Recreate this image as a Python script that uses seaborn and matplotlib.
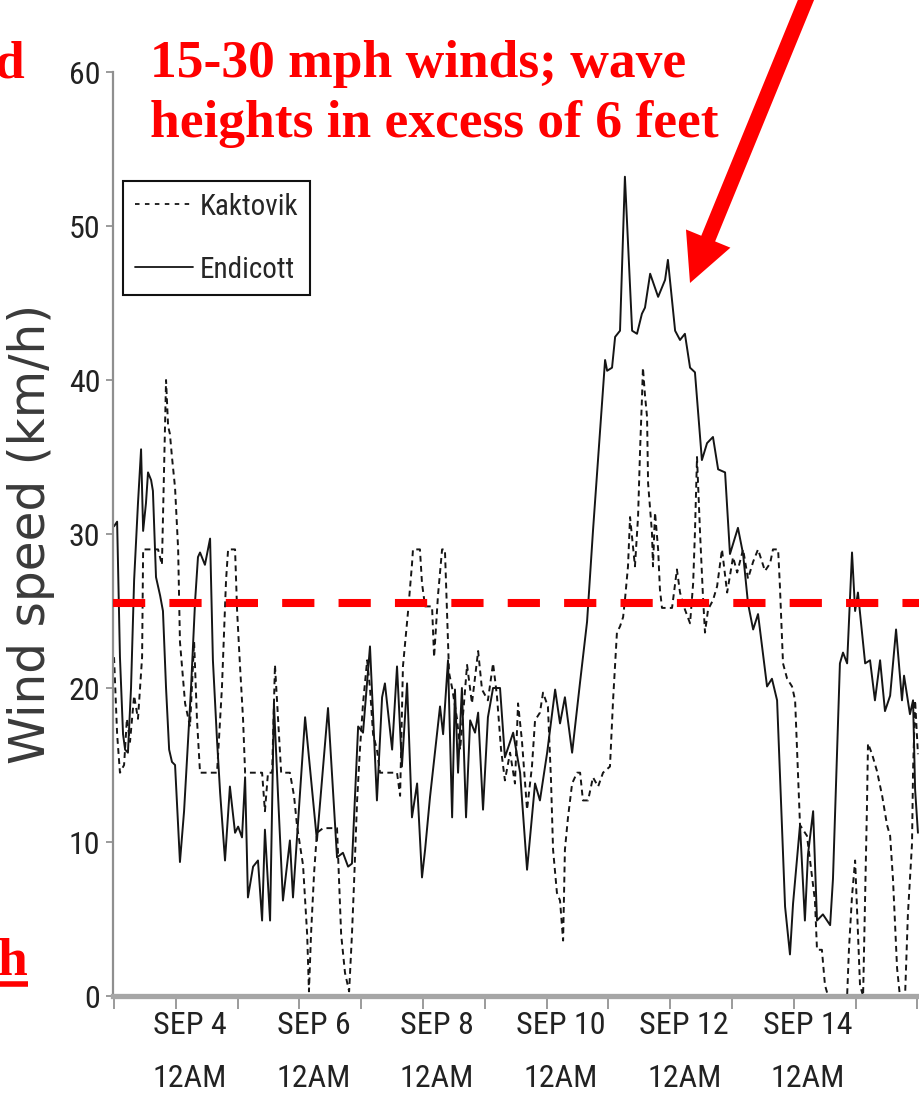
"""
Wind speed at Kaktovik and Endicott, Sep 3-16, with the 15-30 mph storm
threshold marked.  Figure saved as out.png (920x1099 px).
"""

import pandas as pd
import matplotlib
matplotlib.use("Agg")
import matplotlib.pyplot as plt
from matplotlib.lines import Line2D
from matplotlib.patches import FancyArrow
from matplotlib.transforms import ScaledTranslation
import seaborn as sns

# ── Data (hours since SEP 3 12AM, wind speed in km/h) ─────────────────────
endicott_hours = [
    0, 1.2, 2.3, 3.5, 4.3, 5.4, 6.6, 7.8, 9.3, 10.5,
    11.3, 12.4, 13.2, 14.4, 15.1, 16.3, 17.9, 19.0, 20.2, 21.4,
    22.5, 23.7, 25.6, 27.2, 28.3, 29.9, 31.5, 32.6, 33.4, 35.3,
    37.3, 38.4, 40.0, 41.2, 43.1, 45.0, 47.0, 48.2, 49.7, 50.9,
    52.0, 54.0, 55.9, 57.5, 58.6, 60.6, 62.1, 63.7, 65.6, 68.3,
    69.5, 74.2, 78.8, 83.1, 86.6, 88.9, 90.9, 92.4, 94.8, 96.7,
    99.4, 102.1, 104.1, 105.2, 108.0, 109.9, 111.8, 113.8, 115.7, 117.7,
    119.6, 120.8, 122.7, 126.6, 127.8, 129.7, 131.3, 132.4, 133.6, 135.1,
    136.7, 138.3, 140.2, 141.4, 143.3, 145.2, 147.2, 149.9, 151.8, 155.0,
    157.7, 160.4, 163.5, 165.4, 168.2, 171.3, 173.2, 175.1, 177.9, 181.0,
    183.7, 186.0, 190.7, 191.5, 193.4, 194.6, 196.5, 198.4, 201.2, 203.1,
    205.0, 206.2, 208.2, 211.3, 214.0, 215.1, 217.9, 219.8, 221.7, 223.7,
    225.6, 228.3, 230.3, 232.6, 234.6, 237.3, 239.2, 242.3, 244.3, 246.2,
    248.2, 250.1, 253.6, 255.5, 257.5, 260.6, 262.5, 263.7, 266.4, 268.3,
    269.5, 271.5, 273.0, 275.3, 278.1, 279.2, 281.9, 283.1, 284.7, 286.6,
    287.8, 288.9, 291.7, 293.6, 295.5, 297.5, 299.4, 301.4, 303.7, 306.0,
    306.8, 309.1, 310.3, 311.1, 312.2,
]
endicott_speed = [
    30.5, 30.8, 22, 17, 16, 15.8, 20, 27, 32, 35.5,
    30.2, 32, 34, 33.5, 32.8, 27.2, 26, 25, 20, 16,
    15.2, 15, 8.7, 12, 15.3, 20, 25.7, 28.5, 28.8, 28,
    29.7, 21.8, 16.6, 13.2, 8.8, 13.6, 10.6, 11, 10.3, 14.2,
    6.4, 8.4, 8.8, 4.9, 10.8, 4.9, 19, 13, 6.2, 10.1,
    6.4, 18.1, 10.1, 18.7, 9, 9.3, 8.4, 8.6, 17.5, 17.1,
    22.7, 12.7, 19.4, 20.3, 16, 21.4, 14.9, 20.3, 11.6, 13.8,
    7.7, 9.5, 12.9, 18.8, 17, 21.8, 11.6, 19.9, 14.5, 20,
    11.6, 17.9, 17.1, 18.4, 12.1, 18.1, 20, 20, 15.5, 17.1,
    14.5, 8.2, 13.8, 12.7, 15.8, 19.9, 17.7, 19.4, 15.8, 20.4,
    24.3, 30.2, 41.3, 40.6, 40.8, 42.8, 43.2, 53.2, 43.2, 43,
    44.3, 44.7, 46.9, 45.4, 46.5, 47.8, 43.2, 42.6, 43, 40.8,
    40.5, 34.8, 35.9, 36.3, 34.2, 34, 28.7, 30.4, 28.7, 25.5,
    23.8, 24.8, 20.1, 20.6, 19.2, 5.8, 2.7, 6, 11.1, 4.9,
    9.2, 12, 4.9, 5.3, 4.6, 7.6, 21.6, 22.3, 21.6, 28.8,
    25, 26.2, 21.6, 21.8, 19.2, 21.8, 18.5, 19.5, 23.8, 19.2,
    20.8, 18.3, 19.2, 13.4, 10.6,
]

kaktovik_hours = [
    0, 1.2, 2.3, 3.9, 5.0, 6.2, 7.8, 9.3, 10.9, 11.3,
    15.1, 17.1, 18.6, 19.4, 20.2, 21.0, 21.7, 22.5, 23.7, 24.9,
    25.6, 27.6, 29.5, 31.1, 32.2, 33.4, 40.0, 41.9, 43.5, 44.3,
    47.0, 47.8, 48.9, 50.1, 50.9, 57.5, 58.6, 59.8, 61.4, 62.5,
    63.7, 64.9, 68.3, 69.9, 71.1, 73.4, 75.0, 75.7, 76.5, 77.7,
    78.8, 81.2, 86.6, 87.4, 88.2, 89.7, 91.3, 92.4, 93.2, 94.4,
    95.5, 96.7, 98.3, 99.4, 100.6, 102.1, 103.3, 109.9, 111.1, 112.2,
    114.2, 115.7, 116.1, 118.8, 119.6, 120.8, 123.5, 124.3, 125.8, 127.4,
    128.5, 129.3, 130.1, 131.3, 133.2, 134.4, 135.9, 137.1, 139.0, 141.4,
    142.9, 145.2, 147.2, 148.7, 150.3, 151.8, 153.8, 155.7, 156.9, 158.4,
    160.4, 162.3, 163.5, 165.4, 166.6, 168.5, 169.7, 170.5, 172.0, 173.2,
    174.4, 175.1, 176.3, 177.9, 179.8, 181.0, 182.1, 184.1, 186.0, 188.0,
    189.9, 192.6, 193.8, 195.3, 196.5, 197.7, 198.4, 199.6, 200.4, 202.3,
    203.5, 204.3, 205.0, 205.4, 206.2, 207.0, 207.4, 208.9, 209.3, 210.1,
    211.3, 212.0, 212.8, 216.7, 218.6, 219.8, 221.7, 223.7, 224.9, 225.6,
    226.4, 227.6, 228.7, 229.5, 230.7, 232.6, 234.2, 236.1, 238.1, 240.4,
    242.0, 244.3, 246.2, 248.2, 250.1, 252.8, 254.8, 255.9, 257.9, 258.6,
    259.8, 261.4, 263.3, 264.5, 265.6, 266.4, 269.1, 270.3, 272.2, 273.0,
    274.9, 276.1, 277.3, 284.7, 285.4, 286.6, 287.8, 288.9, 289.7, 290.9,
    292.4, 292.8, 294.4, 296.3, 298.3, 300.2, 301.4, 302.5, 304.1, 305.2,
    307.2, 308.3, 309.9, 310.3, 311.1, 312.2,
]
kaktovik_speed = [
    22, 17, 14.5, 15, 18, 16.5, 19.5, 18, 22, 29,
    29, 29, 28, 34, 40, 37, 36.5, 35, 33, 29,
    23, 19, 17.5, 23, 18, 14.5, 14.5, 20, 27, 29,
    29, 25, 21.5, 18, 14.5, 14.5, 12, 14.5, 14.5, 21.5,
    18, 14.5, 14.5, 13, 11, 8.5, 4, 0.3, 4, 8,
    10.6, 10.9, 10.9, 7.5, 4, 1.5, 0.3, 4, 7.3, 12.7,
    16, 19, 21.8, 20, 17, 16, 14.5, 14.5, 13, 21.4,
    25, 28, 29, 29, 26.8, 25.3, 25.3, 22, 26, 29,
    29, 25, 21, 20, 18, 16, 19, 21.5, 19, 22.4,
    19.9, 19.2, 21.6, 19.5, 16, 14, 15.8, 13.8, 19, 16.6,
    12.1, 14.9, 17.9, 18.4, 19.7, 18.8, 14, 9.5, 6.7, 6.2,
    3.6, 9.5, 11.6, 13.8, 14.5, 14.5, 12.7, 12.7, 14.2, 13.6,
    14.5, 14.9, 19.2, 23.6, 24, 24.6, 25.7, 27.9, 31.1, 27.9,
    31.1, 35.5, 38.7, 40.8, 39, 37.6, 33.3, 30.1, 27.9, 31.4,
    29, 26.4, 25.2, 25.2, 27.7, 26.2, 25.1, 24.2, 26.8, 30.1,
    35, 30, 26, 23.6, 25.1, 25.7, 26.6, 29, 26.2, 28.5,
    27.5, 29, 27.1, 28.2, 29, 27.6, 28.1, 29, 29, 26.6,
    21.6, 20.6, 20.1, 19.2, 14.6, 11.1, 10.4, 8.8, 6.2, 3,
    3, 0.7, 0, 0, 3, 6.5, 8.8, 4.2, 0.7, 0,
    12.3, 16.4, 15.7, 14.6, 13, 11.1, 10.4, 7.6, 1.8, 0,
    0, 5.3, 9.9, 14.6, 19.2, 15.7,
]

tick_hours = list(range(0, 313, 24))
tick_labels = {24: "SEP 4\n12AM", 72: "SEP 6\n12AM", 120: "SEP 8\n12AM",
               168: "SEP 10\n12AM", 216: "SEP 12\n12AM", 264: "SEP 14\n12AM"}
y_ticks = [0, 10, 20, 30, 40, 50, 60]
threshold_kmh = 25.5

RED = "#ff0000"
INK = "#151515"
W, H = 920, 1099

sns.set_style("ticks")
plt.rcParams["font.family"] = ["Liberation Sans Narrow", "Roboto Condensed", "DejaVu Sans"]
plt.rcParams["font.stretch"] = "condensed"
SERIF = ["Liberation Serif", "DejaVu Serif"]

fig = plt.figure(figsize=(W / 100, H / 100), dpi=100)
ax = fig.add_axes([113 / W, (H - 996) / H, (W - 113) / W, (996 - 72) / H])

# ── Linhas ────────────────────────────────────────────────────────────────
df = pd.concat([
    pd.DataFrame({"hours": kaktovik_hours, "speed": kaktovik_speed, "station": "Kaktovik"}),
    pd.DataFrame({"hours": endicott_hours, "speed": endicott_speed, "station": "Endicott"}),
], ignore_index=True)

sns.lineplot(
    data=df, x="hours", y="speed", style="station",
    style_order=["Kaktovik", "Endicott"],
    dashes={"Kaktovik": (3, 2.2), "Endicott": ""},
    color=INK, linewidth=1.4, estimator=None, legend=False, ax=ax,
)

ax.axhline(threshold_kmh, color=RED, lw=5.8, dashes=(4, 3), zorder=5)

# ── Eixos ─────────────────────────────────────────────────────────────────
ax.set_xlim(-0.4, 313)
ax.set_ylim(0, 60)
ax.set_xticks(tick_hours)
ax.set_xticklabels([tick_labels.get(h, "") for h in tick_hours])
ax.set_yticks(y_ticks)
ax.set_xlabel("")
ax.set_ylabel("Wind speed (km/h)", fontsize=35, family="DejaVu Sans",
              fontstretch="normal", color="#3a3a3a")
ax.yaxis.set_label_coords((31 - 113) / (W - 113), 0.5)
ax.yaxis.label.set_va("center")

ax.tick_params(axis="x", length=9, width=1.2, color="#8a8a8a", pad=2,
               labelsize=23, labelcolor="#222222")
ax.tick_params(axis="y", length=5, width=1.2, color="#8a8a8a", pad=4,
               labelsize=23, labelcolor="#222222")
shift = ScaledTranslation(14 / 100, 0, fig.dpi_scale_trans)
for lbl in ax.get_xticklabels():
    lbl.set_linespacing(2.05)
    lbl.set_transform(lbl.get_transform() + shift)

for side in ["top", "right"]:
    ax.spines[side].set_visible(False)
ax.spines["left"].set_color("#8f8f8f")
ax.spines["left"].set_linewidth(1.6)
ax.spines["bottom"].set_color("#a6a6a6")
ax.spines["bottom"].set_linewidth(3.8)

handles = [Line2D([], [], color=INK, lw=1.3, dashes=(2.5, 3)),
           Line2D([], [], color=INK, lw=1.3)]
leg = ax.legend(handles, ["Kaktovik", "Endicott"], loc="upper left",
                bbox_to_anchor=(10 / (W - 113), (996 - 181) / (996 - 72)),
                borderaxespad=0, fancybox=False, framealpha=1, edgecolor="#111111",
                fontsize=21, handlelength=2.0, handletextpad=0.22,
                labelspacing=1.2, borderpad=0.4)
leg.get_frame().set_linewidth(1.5)

# ── Anotações (coordenadas em pixels da figura) ───────────────────────────
ov = fig.add_axes([0, 0, 1, 1], zorder=10)
ov.set_xlim(0, W)
ov.set_ylim(H, 0)
ov.axis("off")

txt = dict(color=RED, fontsize=38.5, fontweight="bold", family=SERIF,
           fontstretch="normal", va="baseline")
ov.text(150, 77, "15-30 mph winds; wave", ha="left", **txt)
ov.text(150, 137, "heights in excess of 6 feet", ha="left", **txt)
ov.text(25, 77, "d", ha="right", **txt)
ov.text(27, 975, "h", ha="right", **txt)
ov.plot([0, 28], [984, 984], color=RED, lw=4, solid_capstyle="butt")

ov.add_patch(FancyArrow(808, -5, 690 - 808, 283 + 5, width=15, head_width=48,
                        head_length=48, length_includes_head=True,
                        color=RED, lw=0))

fig.savefig("out.png", dpi=100)
plt.close(fig)
print("[SALVO] out.png")
